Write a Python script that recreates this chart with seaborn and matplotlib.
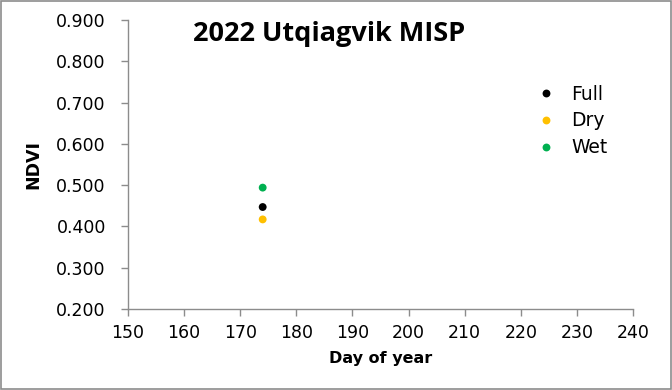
import matplotlib
matplotlib.use("Agg")
import matplotlib.pyplot as plt
import seaborn as sns
import pandas as pd
from matplotlib.patches import Rectangle

series = ["Full", "Dry", "Wet"]
day_of_year = [174, 174, 174]
ndvi = [0.447, 0.417, 0.494]
colors = ["#000000", "#FFC000", "#00B050"]

sns.set_theme(style="white")
plt.rcParams['font.family'] = ['DejaVu Sans']
plt.rcParams['text.color'] = 'black'
plt.rcParams['axes.labelcolor'] = 'black'

df = pd.DataFrame({"Series": series, "Day": day_of_year, "NDVI": ndvi})

fig = plt.figure(figsize=(6.72, 3.9), dpi=100)
ax = fig.add_axes([0.1905, 0.2077, 0.7515, 0.741])

sns.scatterplot(data=df, x="Day", y="NDVI", hue="Series", palette=colors,
                s=32, edgecolor="none", ax=ax, zorder=3)

ax.set_xlim(150, 240)
ax.set_ylim(0.2, 0.9)
ax.set_xticks(range(150, 241, 10))
ax.set_yticks([0.2 + 0.1 * i for i in range(8)])
ax.set_yticklabels([f"{0.2 + 0.1 * i:.3f}" for i in range(8)])
ax.tick_params(axis="both", which="major", bottom=True, left=True,
               labelsize=12.5, labelcolor="#000000", direction="out",
               length=5, width=1, color="#8c8c8c")
ax.tick_params(axis="y", pad=11)
ax.tick_params(axis="x", pad=6)
for side in ["top", "right"]:
    ax.spines[side].set_visible(False)
for side in ["left", "bottom"]:
    ax.spines[side].set_color("#8c8c8c")
    ax.spines[side].set_linewidth(1)

ax.set_xlabel("Day of year", fontsize=11.5, fontweight="bold", labelpad=6)
ax.set_ylabel("NDVI", fontsize=12.5, fontweight="bold", labelpad=10,
              family="Liberation Sans Narrow")

fig.text(0.49, 0.913, "2022 Utqiagvik MISP", fontsize=19.5, fontweight="bold",
         ha="center", va="center", family="Open Sans")

leg = ax.legend(title=None, loc="upper left", bbox_to_anchor=(0.757, 0.835),
                frameon=False, fontsize=13.5, handletextpad=0.35,
                labelspacing=0.42, markerscale=1.0)

fig.patches.append(Rectangle((0.002, 0.003), 0.996, 0.994, transform=fig.transFigure,
                             fill=False, edgecolor="#8c8c8c", linewidth=1.2))

fig.savefig("out.png", dpi=100)
